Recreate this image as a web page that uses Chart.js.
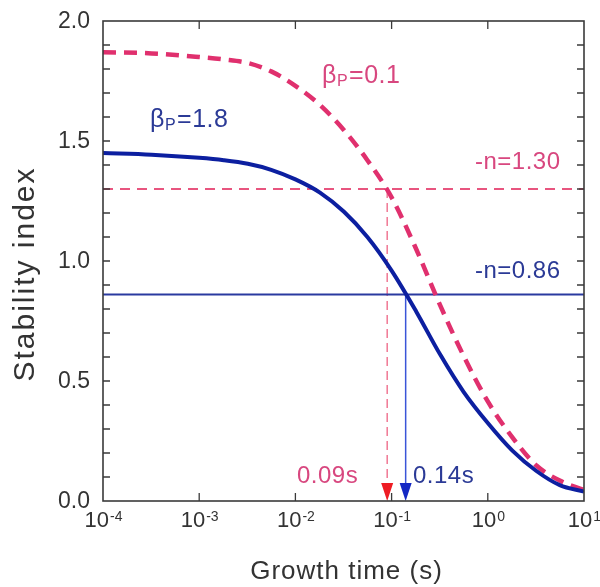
<!DOCTYPE html>
<html>
<head>
<meta charset="utf-8">
<script src="https://cdn.jsdelivr.net/npm/chart.js@4"></script>
<style>
  html, body { margin: 0; background: #fff; }
  #wrap { width: 600px; height: 587px; }
</style>
</head>
<body>
<div id="wrap"><canvas id="stability"></canvas></div>
<script>
// growth time (s) and stability index for the two poloidal beta cases
let growthTimes = [1e-4, 3.2e-4, 1e-3, 1.8e-3, 3.2e-3, 5.6e-3, 1e-2, 0.018, 0.032, 0.056, 0.1, 0.18, 0.32, 0.56, 1, 1.8, 3.2, 5.6, 10]
let stabilityBeta18 = [1.45, 1.443, 1.43, 1.42, 1.405, 1.38, 1.34, 1.285, 1.205, 1.10, 0.96, 0.79, 0.61, 0.455, 0.325, 0.21, 0.125, 0.066, 0.039]
let stabilityBeta01 = [1.87, 1.865, 1.85, 1.84, 1.825, 1.79, 1.73, 1.65, 1.545, 1.42, 1.265, 1.05, 0.815, 0.605, 0.415, 0.265, 0.148, 0.085, 0.046]

// decay index thresholds (-n) and the growth times where the curves cross them
let thresholdBeta01 = 1.30
let thresholdBeta18 = 0.86
let crossTimeBeta01 = 0.09
let crossTimeBeta18 = 0.14

let xTicks = [1e-4, 1e-3, 1e-2, 1e-1, 1e0, 1e1]
let xTickExponents = ['-4', '-3', '-2', '-1', '0', '1']
let yTicks = [0, 0.5, 1.0, 1.5, 2.0]

const BLUE = '#0c1fa0'
const PINK = '#e0306e'
const FONT = '"Liberation Sans", Arial, Helvetica, sans-serif'

function toPoints(xs, ys){
    let pts = []
    for (let i = 0; i < xs.length; i++){
        pts.push({x: xs[i], y: ys[i]})
    }
    return pts
}

function drawSubLabel(ctx, x, y, sub, rest, color, size){
    ctx.fillStyle = color
    ctx.textAlign = 'left'
    ctx.textBaseline = 'alphabetic'
    ctx.font = size + 'px ' + FONT
    ctx.fillText('\u03b2', x, y)
    let w = ctx.measureText('\u03b2').width
    ctx.font = Math.round(size * 0.62) + 'px ' + FONT
    ctx.fillText(sub, x + w, y + 3)
    w += ctx.measureText(sub).width
    ctx.font = size + 'px ' + FONT
    ctx.fillText(rest, x + w + 1, y)
}

// frame, inward ticks, tick labels, titles and annotations
const decorations = {
    id: 'decorations',
    afterDatasetsDraw(chart){
        let ctx = chart.ctx
        let xs = chart.scales.x
        let ys = chart.scales.y
        let a = chart.chartArea
        ctx.save()

        // arrowheads on the time axis
        let heads = [[crossTimeBeta01, '#ee1c24'], [crossTimeBeta18, '#1428c4']]
        for (let i = 0; i < heads.length; i++){
            let px = xs.getPixelForValue(heads[i][0])
            let py = ys.getPixelForValue(0)
            ctx.fillStyle = heads[i][1]
            ctx.beginPath()
            ctx.moveTo(px - 6, py - 18)
            ctx.lineTo(px + 6, py - 18)
            ctx.lineTo(px, py)
            ctx.closePath()
            ctx.fill()
        }

        ctx.strokeStyle = '#3a3a3a'
        ctx.lineWidth = 1.6
        ctx.strokeRect(a.left, a.top, a.right - a.left, a.bottom - a.top)

        ctx.lineWidth = 1.3
        ctx.beginPath()
        for (let v = 1; v < 20; v++){
            let py = ys.getPixelForValue(v / 10)
            ctx.moveTo(a.left, py)
            ctx.lineTo(a.left + 7, py)
            ctx.moveTo(a.right, py)
            ctx.lineTo(a.right - 7, py)
        }
        for (let i = 1; i < xTicks.length - 1; i++){
            let px = xs.getPixelForValue(xTicks[i])
            ctx.moveTo(px, a.bottom)
            ctx.lineTo(px, a.bottom - 8)
            ctx.moveTo(px, a.top)
            ctx.lineTo(px, a.top + 8)
        }
        ctx.stroke()

        ctx.fillStyle = '#333'
        ctx.font = '23px ' + FONT
        ctx.textAlign = 'right'
        ctx.textBaseline = 'middle'
        for (let i = 0; i < yTicks.length; i++){
            ctx.fillText(yTicks[i].toFixed(1), a.left - 13, ys.getPixelForValue(yTicks[i]) + 1)
        }

        ctx.textAlign = 'left'
        ctx.textBaseline = 'alphabetic'
        for (let i = 0; i < xTicks.length; i++){
            let px = xs.getPixelForValue(xTicks[i])
            ctx.font = '22px ' + FONT
            let wBase = ctx.measureText('10').width
            ctx.font = '14px ' + FONT
            let wExp = ctx.measureText(xTickExponents[i]).width
            let left = px - (wBase + wExp) / 2
            ctx.font = '22px ' + FONT
            ctx.fillText('10', left, a.bottom + 26)
            ctx.font = '14px ' + FONT
            ctx.fillText(xTickExponents[i], left + wBase + 1, a.bottom + 20)
        }

        ctx.textAlign = 'center'
        ctx.textBaseline = 'middle'
        ctx.letterSpacing = '1px'
        ctx.font = '26px ' + FONT
        ctx.fillText('Growth time (s)', (a.left + a.right) / 2 + 3, 572)
        ctx.save()
        ctx.translate(26, 274)
        ctx.rotate(-Math.PI / 2)
        ctx.letterSpacing = '2px'
        ctx.font = '30px ' + FONT
        ctx.fillText('Stability index', 0, 0)
        ctx.restore()
        ctx.letterSpacing = '0.5px'

        drawSubLabel(ctx, 150, 127, 'P', '=1.8', '#2b3a96', 25)
        drawSubLabel(ctx, 322, 83, 'P', '=0.1', '#d8477f', 25)

        ctx.textAlign = 'left'
        ctx.textBaseline = 'alphabetic'
        ctx.font = '24px ' + FONT
        ctx.fillStyle = '#d8477f'
        ctx.fillText('-n=' + thresholdBeta01.toFixed(2), 475, ys.getPixelForValue(thresholdBeta01) - 20)
        ctx.fillText(crossTimeBeta01 + 's', 297, 483)
        ctx.fillStyle = '#2b3a96'
        ctx.fillText('-n=' + thresholdBeta18.toFixed(2), 475, ys.getPixelForValue(thresholdBeta18) - 17)
        ctx.fillText(crossTimeBeta18 + 's', 413, 483)

        ctx.restore()
    }
}

let chart = new Chart(document.getElementById('stability'), {
    type: 'line',
    data: {
        datasets: [
            {
                data: toPoints(growthTimes, stabilityBeta18),
                borderColor: BLUE,
                borderWidth: 4,
                cubicInterpolationMode: 'monotone'
            },
            {
                data: toPoints(growthTimes, stabilityBeta01),
                borderColor: PINK,
                borderWidth: 4.5,
                borderDash: [13, 8],
                cubicInterpolationMode: 'monotone'
            },
            {
                data: [{x: xTicks[0], y: thresholdBeta01}, {x: xTicks[5], y: thresholdBeta01}],
                borderColor: '#e8557f',
                borderWidth: 2,
                borderDash: [10, 7]
            },
            {
                data: [{x: xTicks[0], y: thresholdBeta18}, {x: xTicks[5], y: thresholdBeta18}],
                borderColor: '#2a3aa0',
                borderWidth: 2
            },
            {
                data: [{x: crossTimeBeta01, y: thresholdBeta01}, {x: crossTimeBeta01, y: 0.06}],
                borderColor: '#f07894',
                borderWidth: 1.5,
                borderDash: [9, 5]
            },
            {
                data: [{x: crossTimeBeta18, y: thresholdBeta18}, {x: crossTimeBeta18, y: 0.06}],
                borderColor: '#3a55d8',
                borderWidth: 1.5
            }
        ]
    },
    options: {
        responsive: true,
        maintainAspectRatio: false,
        animation: false,
        layout: {padding: {left: 103, right: 16, top: 21, bottom: 86}},
        elements: {point: {radius: 0}, line: {tension: 0}},
        plugins: {legend: {display: false}, tooltip: {enabled: false}},
        scales: {
            x: {type: 'logarithmic', min: 1e-4, max: 10, display: false},
            y: {type: 'linear', min: 0, max: 2, display: false}
        }
    },
    plugins: [decorations]
});
</script>
</body>
</html>
